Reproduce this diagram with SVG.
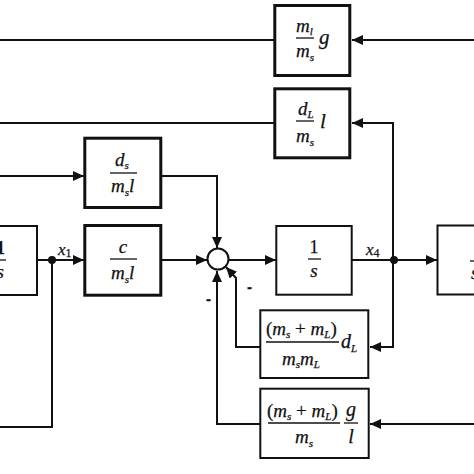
<svg xmlns="http://www.w3.org/2000/svg" width="474" height="474" viewBox="0 0 474 474">
<style>
.thick{fill:#fff;stroke:#111;stroke-width:3}
.thin{fill:#fff;stroke:#111;stroke-width:2}
.w{fill:none;stroke:#111;stroke-width:2}
.fb{stroke:#111;stroke-width:1.3}
text{font-family:"Liberation Serif","Times New Roman",serif;fill:#111;stroke:#111;stroke-width:0.25}
.m{font-style:italic;font-size:19px}
.r{font-size:18px}
.s{font-size:11px}
.mi{font-family:"Liberation Sans",Arial,sans-serif;font-weight:bold;font-size:15px}
</style>
<defs>
<marker id="a" markerUnits="userSpaceOnUse" markerWidth="11" markerHeight="10" refX="11" refY="5" orient="auto">
<path d="M0,0 L11,5 L0,10 z" fill="#111"/>
</marker>
</defs>
<rect width="474" height="474" fill="#fff"/>
<g id="connectors">
<path class="w" d="M0,40 H274"/>
<path class="w" d="M474,40 H352" marker-end="url(#a)"/>
<path class="w" d="M0,123 H274"/>
<path class="w" d="M393,260 V123 H352" marker-end="url(#a)"/>
<path class="w" d="M393,260 V347 H370" marker-end="url(#a)"/>
<path class="w" d="M0,176 H84" marker-end="url(#a)"/>
<path class="w" d="M162,176 H217 V248" marker-end="url(#a)"/>
<path class="w" d="M37,260 H84" marker-end="url(#a)"/>
<path class="w" d="M52,260 V427 H0"/>
<path class="w" d="M162,260 H207" marker-end="url(#a)"/>
<path class="w" d="M229,260 H276" marker-end="url(#a)"/>
<path class="w" d="M352,260 H437" marker-end="url(#a)"/>
<path class="w" d="M260,347 H236 V278 L226,267" marker-end="url(#a)"/>
<path class="w" d="M260,424 H217 V271" marker-end="url(#a)"/>
<path class="w" d="M474,424 H370" marker-end="url(#a)"/>
<circle cx="52" cy="260" r="4" fill="#111"/>
<circle cx="394" cy="260" r="4" fill="#111"/>
<text x="58" y="255" class="m" style="font-size:17px">x<tspan class="s" dy="2" style="font-style:normal;font-size:12px">1</tspan></text>
<text x="366" y="255" class="m" style="font-size:17px">x<tspan class="s" dy="2" style="font-style:normal;font-size:12px">4</tspan></text>
<text x="247" y="292" class="mi">-</text>
<text x="206" y="304" class="mi">-</text>
</g>
<g id="sum">
<circle cx="218" cy="259" r="10.5" fill="#fff" stroke="#111" stroke-width="2"/>
</g>
<g id="box-ml-ms-g">
<rect class="thick" x="274.8" y="5.5" width="75" height="70"/>
<text x="296" y="32" class="m">m<tspan class="s" dy="3">l</tspan></text>
<line class="fb" x1="296" y1="38" x2="314" y2="38"/>
<text x="296" y="57" class="m">m<tspan class="s" dy="4">s</tspan></text>
<text x="319" y="44" class="m" style="font-size:21px">g</text>
</g>
<g id="box-dL-ms-l">
<rect class="thick" x="274.8" y="88.8" width="75" height="69"/>
<text x="298" y="115" class="m">d<tspan class="s" dy="3">L</tspan></text>
<line class="fb" x1="296" y1="121" x2="314" y2="121"/>
<text x="296" y="142" class="m">m<tspan class="s" dy="4">s</tspan></text>
<text x="320" y="128" class="m" style="font-size:21px">l</text>
</g>
<g id="box-ds-msl">
<rect class="thick" x="84.8" y="138.2" width="76" height="69.3"/>
<text x="115" y="166" class="m">d<tspan class="s" dy="3">s</tspan></text>
<line class="fb" x1="110" y1="173" x2="137" y2="173"/>
<text x="111" y="192" class="m">m<tspan class="s" dy="4">s</tspan><tspan dy="-4">l</tspan></text>
</g>
<g id="box-c-msl">
<rect class="thick" x="84.8" y="225.5" width="76" height="69.7"/>
<text x="123" y="253" class="m" text-anchor="middle">c</text>
<line class="fb" x1="110" y1="259" x2="137" y2="259"/>
<text x="111" y="279" class="m">m<tspan class="s" dy="4">s</tspan><tspan dy="-4">l</tspan></text>
</g>
<g id="box-integrator-left">
<rect class="thin" x="-5" y="226" width="42" height="69"/>
<text x="5" y="254" class="r" text-anchor="end" style="font-weight:bold">1</text>
<line class="fb" x1="0" y1="260" x2="6" y2="260"/>
<text x="4" y="278" class="m" text-anchor="end">s</text>
</g>
<g id="box-integrator">
<rect class="thin" x="276.3" y="226" width="75.4" height="68.7"/>
<text x="314" y="253" class="r" text-anchor="middle">1</text>
<line class="fb" x1="308" y1="259" x2="321" y2="259"/>
<text x="314" y="277" class="m" text-anchor="middle">s</text>
</g>
<g id="box-integrator-right">
<rect class="thin" x="437.5" y="225.5" width="50" height="69"/>
<text x="473" y="253" class="r">1</text>
<line class="fb" x1="470" y1="261" x2="482" y2="261"/>
<text x="471" y="279" class="m">s</text>
</g>
<g id="box-msmL-dL">
<rect class="thin" x="260.3" y="310.3" width="108" height="67.7"/>
<text x="266" y="335" class="m"><tspan style="font-style:normal">(</tspan>m<tspan class="s" dy="3">s</tspan><tspan dy="-3" style="font-style:normal"> + </tspan>m<tspan class="s" dy="3">L</tspan><tspan dy="-3" style="font-style:normal">)</tspan></text>
<line class="fb" x1="266" y1="342" x2="339" y2="342"/>
<text x="341" y="348" class="m" style="font-size:20px">d<tspan class="s" dy="4">L</tspan></text>
<text x="282" y="365" class="m">m<tspan class="s" dy="3">s</tspan><tspan dy="-3">m</tspan><tspan class="s" dy="3">L</tspan></text>
</g>
<g id="box-msmL-g-l">
<rect class="thin" x="260.3" y="388.7" width="108.4" height="69.3"/>
<text x="267" y="417" class="m"><tspan style="font-style:normal">(</tspan>m<tspan class="s" dy="3">s</tspan><tspan dy="-3" style="font-style:normal"> + </tspan>m<tspan class="s" dy="3">L</tspan><tspan dy="-3" style="font-style:normal">)</tspan></text>
<line class="fb" x1="268" y1="423" x2="340" y2="423"/>
<text x="295" y="443" class="m">m<tspan class="s" dy="4">s</tspan></text>
<text x="351" y="416" class="m" text-anchor="middle" style="font-size:20px">g</text>
<line class="fb" x1="344" y1="423" x2="358" y2="423"/>
<text x="351" y="443" class="m" text-anchor="middle" style="font-size:20px">l</text>
</g>
</svg>
